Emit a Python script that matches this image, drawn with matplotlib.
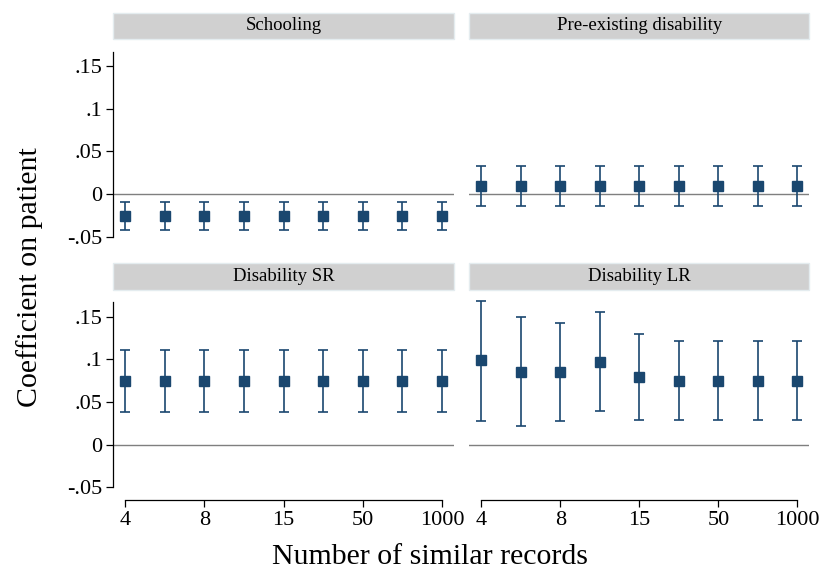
import matplotlib
matplotlib.use("Agg")
import matplotlib.pyplot as plt
from matplotlib.patches import Rectangle

plt.rcParams["font.family"] = ["Liberation Serif", "DejaVu Serif"]

# x categories (9 specifications), only every other one labelled
x_pos = [1, 2, 3, 4, 5, 6, 7, 8, 9]
tick_pos = [1, 3, 5, 7, 9]
tick_labels = ["4", "8", "15", "50", "1000"]

panel_titles = ["Schooling", "Pre-existing disability", "Disability SR", "Disability LR"]

# coefficients and confidence bounds
schooling_coef = [-0.026] * 9
schooling_lo = [-0.042] * 9
schooling_hi = [-0.0097] * 9

preexist_coef = [0.0097] * 9
preexist_lo = [-0.0136] * 9
preexist_hi = [0.033] * 9

dis_sr_coef = [0.0745] * 9
dis_sr_lo = [0.0378] * 9
dis_sr_hi = [0.1107] * 9

dis_lr_coef = [0.0988, 0.0857, 0.0857, 0.0968, 0.0798, 0.0746, 0.0746, 0.0746, 0.0746]
dis_lr_lo = [0.0280, 0.0215, 0.0280, 0.0390, 0.0290, 0.0285, 0.0285, 0.0285, 0.0285]
dis_lr_hi = [0.1690, 0.1496, 0.1430, 0.1550, 0.1300, 0.1210, 0.1210, 0.1210, 0.1210]

series = [
    (schooling_coef, schooling_lo, schooling_hi),
    (preexist_coef, preexist_lo, preexist_hi),
    (dis_sr_coef, dis_sr_lo, dis_sr_hi),
    (dis_lr_coef, dis_lr_lo, dis_lr_hi),
]

navy = "#1a476f"
W, H = 824, 573
fig = plt.figure(figsize=(W / 100, H / 100), dpi=100)

# panel boxes in pixels: (left, top, right, bottom)
cols = [(113.3, 454.0), (469.3, 809.3)]
rows = [(51.7, 236.7, 12.7, 39.3), (301.7, 487.3, 263.3, 290.0)]

for i, (coef, lo, hi) in enumerate(series):
    r, c = divmod(i, 2)
    x0, x1 = cols[c]
    y0, y1, s0, s1 = rows[r]
    ax = fig.add_axes([x0 / W, 1 - y1 / H, (x1 - x0) / W, (y1 - y0) / H])

    err = [[m - l for m, l in zip(coef, lo)], [h - m for m, h in zip(coef, hi)]]
    ax.axhline(0, color="#7f7f7f", lw=1.0, zorder=1)
    ax.errorbar(x_pos, coef, yerr=err, fmt="s", color=navy, ecolor=navy,
                elinewidth=1.2, capsize=3.5, capthick=1.2, markersize=7.5,
                zorder=3, clip_on=False)

    ax.set_xlim(0.7, 9.3)
    ax.set_ylim(-0.05, 0.1665 if r == 0 else 0.1676)
    ax.set_facecolor("none")

    ax.spines["top"].set_visible(False)
    ax.spines["right"].set_visible(False)

    if c == 0:
        ax.spines["left"].set_linewidth(0.9)
        ax.set_yticks([-0.05, 0, 0.05, 0.1, 0.15])
        ax.set_yticklabels(["-.05", "0", ".05", ".1", ".15"])
        ax.tick_params(axis="y", length=5, width=0.9, pad=3, labelsize=16)
    else:
        ax.spines["left"].set_visible(False)
        ax.set_yticks([])

    if r == 1:
        ax.spines["bottom"].set_position(("outward", 9))
        ax.spines["bottom"].set_bounds(1, 9)
        ax.spines["bottom"].set_linewidth(0.9)
        ax.set_xticks(tick_pos)
        ax.set_xticklabels(tick_labels)
        ax.tick_params(axis="x", length=5, width=0.9, pad=3, labelsize=16)
    else:
        ax.spines["bottom"].set_visible(False)
        ax.set_xticks([])

    # facet strip
    fig.patches.append(Rectangle((x0 / W, 1 - s1 / H), (x1 - x0) / W, (s1 - s0) / H,
                                 transform=fig.transFigure, facecolor="#d0d0d0",
                                 edgecolor="#e4ecef", lw=1.0))
    fig.text((x0 + x1) / 2 / W, 1 - (s0 + s1) / 2 / H, panel_titles[i],
             ha="center", va="center", fontsize=13.5)

fig.text(30 / W, 1 - 277 / H, "Coefficient on patient", rotation=90,
         ha="center", va="center", fontsize=21.5)
fig.text(430 / W, 1 - 557 / H, "Number of similar records",
         ha="center", va="center", fontsize=21.5)

fig.savefig("out.png", dpi=100)
